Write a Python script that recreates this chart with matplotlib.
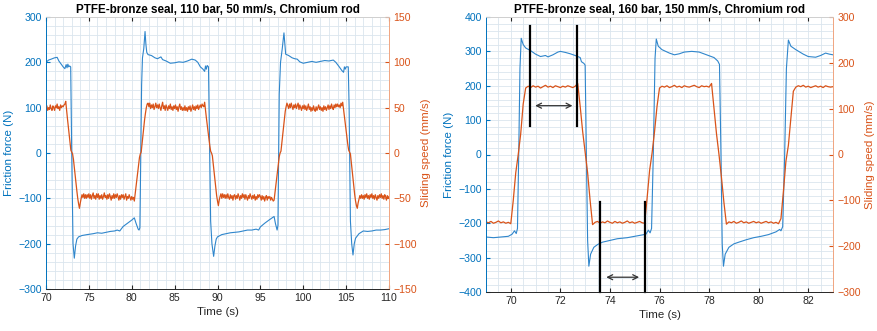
import numpy as np
import matplotlib
matplotlib.use("Agg")
import matplotlib.pyplot as plt
from matplotlib.ticker import MultipleLocator

plt.rcParams['font.family'] = ['Liberation Sans', 'DejaVu Sans']

BLUE = '#0072BD'
BLUE_LINE = '#2f86cc'
ORANGE = '#D95319'
GRID = '#dbe5ee'

# ---- left panel: 110 bar, 50 mm/s ----
left_title = "PTFE-bronze seal, 110 bar, 50 mm/s, Chromium rod"
left_force_t = [70.0, 70.3, 70.6, 71.0, 71.3, 71.5, 71.8, 72.0, 72.2, 72.35, 72.45, 72.55, 72.65, 72.75,
                72.88, 73.0, 73.15, 73.3, 73.45, 73.6, 73.8, 74.2, 74.8, 75.5, 76.0, 76.5, 77.0, 77.5,
                78.0, 78.3, 78.6, 79.0, 79.5, 80.0, 80.3, 80.5, 80.75, 80.85, 80.95, 81.15, 81.25, 81.4,
                81.55, 81.65, 81.75, 81.9, 82.3, 82.7, 83.0, 83.4, 83.6, 84.0, 84.5, 85.0, 85.5, 86.0,
                86.5, 87.0, 87.4, 87.7, 88.0, 88.3, 88.5, 88.6, 88.7, 88.8, 88.95, 89.05, 89.2, 89.35,
                89.55, 89.7, 89.85, 90.0, 90.5, 91.0, 91.5, 92.0, 92.5, 93.0, 93.5, 94.0, 94.5, 94.8,
                95.0, 95.5, 96.0, 96.6, 96.75, 96.95, 97.05, 97.2, 97.35, 97.55, 97.75, 97.85, 97.95,
                98.3, 98.7, 99.0, 99.3, 99.6, 100.0, 100.5, 101.0, 101.5, 102.0, 102.5, 103.0, 103.5,
                103.8, 104.2, 104.5, 104.7, 104.8, 104.9, 105.0, 105.25, 105.35, 105.5, 105.65, 105.8,
                105.95, 106.1, 106.5, 107.0, 107.5, 108.0, 108.5, 109.0, 109.5, 110.0]
left_force = [200, 205, 207, 210, 211, 203, 195, 190, 186, 195, 188, 196, 190, 192,
              190, 0, -200, -232, -205, -190, -185, -182, -180, -178, -176, -177, -175, -173,
              -172, -170, -172, -162, -155, -148, -143, -155, -168, -170, -165, 150, 210, 230,
              268, 240, 222, 217, 215, 210, 208, 212, 206, 203, 198, 199, 201, 200,
              203, 207, 205, 200, 190, 185, 180, 192, 185, 193, 190, 50, -150, -200,
              -228, -205, -190, -185, -180, -178, -176, -175, -174, -172, -170, -170, -168, -170,
              -163, -155, -148, -140, -155, -170, -160, 130, 200, 230, 265, 240, 218,
              215, 210, 208, 207, 201, 198, 200, 202, 200, 202, 204, 203, 205,
              200, 190, 182, 178, 190, 185, 190, 190, 100, -150, -200, -225,
              -200, -188, -178, -172, -173, -172, -170, -170, -169, -167]

left_speed_t0, left_speed_dt = 70.0, 0.1
left_speed = [
    49, 52, 47, 50, 48, 53, 49, 47, 52, 50,
    47, 52, 50, 54, 49, 51, 47, 53, 50, 52,
    51, 53, 54, 57, 47, 38, 29, 20, 11, 3,
    1, -1, -7, -16, -25, -34, -42, -50, -56, -61,
    -55, -50, -46, -49, -45, -50, -46, -50, -46, -49,
    -45, -50, -46, -51, -47, -44, -50, -47, -51, -45,
    -49, -45, -51, -47, -50, -46, -51, -48, -44, -49,
    -47, -51, -46, -50, -45, -48, -52, -47, -50, -45,
    -50, -46, -49, -45, -48, -52, -47, -51, -46, -49,
    -46, -51, -48, -45, -52, -48, -50, -46, -49, -52,
    -48, -51, -49, -53, -45, -37, -29, -21, -13, -5,
    -1, 1, 10, 20, 29, 37, 44, 50, 54, 55,
    51, 55, 49, 53, 50, 54, 48, 51, 55, 50,
    53, 49, 54, 50, 47, 52, 56, 49, 52, 47,
    53, 50, 47, 52, 49, 54, 48, 51, 47, 52,
    49, 53, 48, 51, 46, 51, 54, 48, 51, 47,
    50, 47, 52, 47, 50, 46, 51, 48, 52, 46,
    49, 53, 48, 51, 47, 52, 49, 53, 48, 51,
    53, 50, 54, 52, 51, 56, 47, 39, 31, 23,
    15, 8, 2, 0, -3, -12, -21, -30, -39, -47,
    -53, -58, -52, -48, -45, -50, -45, -49, -46, -50,
    -46, -50, -45, -49, -51, -46, -50, -47, -52, -47,
    -46, -51, -47, -50, -45, -48, -52, -47, -50, -45,
    -49, -46, -51, -46, -49, -52, -47, -50, -45, -48,
    -51, -47, -50, -46, -52, -48, -51, -46, -49, -46,
    -48, -52, -47, -51, -48, -53, -49, -47, -52, -48,
    -50, -48, -52, -49, -51, -53, -52, -44, -36, -27,
    -19, -11, -4, 0, 2, 11, 21, 30, 39, 46,
    51, 55, 52, 49, 54, 50, 55, 51, 48, 53,
    50, 54, 49, 52, 55, 48, 53, 50, 47, 52,
    49, 53, 48, 52, 47, 50, 54, 48, 51, 46,
    50, 47, 52, 48, 46, 51, 47, 50, 53, 48,
    51, 47, 50, 46, 52, 48, 51, 47, 50, 53,
    48, 52, 49, 54, 50, 48, 53, 50, 54, 51,
    54, 51, 53, 50, 55, 52, 56, 48, 40, 32,
    24, 16, 9, 3, 1, -1, -10, -20, -29, -38,
    -46, -53, -58, -61, -55, -51, -47, -50, -46, -50,
    -47, -51, -46, -49, -45, -50, -47, -51, -46, -49,
    -45, -50, -47, -51, -46, -49, -52, -47, -50, -46,
    -49, -45, -50, -47, -51, -46, -48, -52, -47, -50,
    -48]

# ---- right panel: 160 bar, 150 mm/s ----
right_title = "PTFE-bronze seal, 160 bar, 150 mm/s, Chromium rod"
right_force_t = [69.0, 69.3, 69.6, 69.9, 70.05, 70.15, 70.22, 70.27, 70.32, 70.37, 70.42, 70.5, 70.6,
                 70.8, 71.0, 71.2, 71.4, 71.5, 71.7, 71.9, 72.0, 72.2, 72.4, 72.6, 72.8, 72.85, 72.95,
                 73.0, 73.05, 73.1, 73.15, 73.22, 73.35, 73.5, 73.7, 74.0, 74.3, 74.7, 75.0, 75.3,
                 75.45, 75.55, 75.62, 75.68, 75.75, 75.82, 75.87, 75.95, 76.1, 76.4, 76.6, 76.8, 77.0,
                 77.3, 77.6, 77.9, 78.2, 78.35, 78.42, 78.48, 78.53, 78.58, 78.65, 78.8, 79.0, 79.2,
                 79.5, 79.8, 80.1, 80.4, 80.7, 80.85, 80.9, 80.97, 81.05, 81.12, 81.2, 81.3, 81.5,
                 81.8, 82.0, 82.3, 82.5, 82.7, 82.85, 83.0]
right_force = [-240, -242, -240, -238, -232, -222, -230, -215, 0, 250, 338, 320, 310,
               302, 292, 285, 288, 284, 290, 298, 300, 297, 293, 288, 282, 270, 265,
               260, 0, -250, -325, -290, -270, -262, -255, -250, -245, -242, -238, -234,
               -232, -220, -228, -215, 0, 280, 336, 315, 305, 295, 290, 293, 298,
               300, 298, 290, 282, 272, 262, 0, -260, -325, -290, -270, -260, -255,
               -248, -242, -238, -233, -225, -218, -222, -210, 0, 250, 333, 315, 305,
               292, 285, 283, 288, 295, 292, 290]

right_speed_t0, right_speed_dt = 69.0, 0.1
right_speed = [
    -147, -149, -146, -150, -148, -145, -149, -147, -150, -148,
    -151, -100, -40, 0, 45, 110, 145, 149, 146, 150,
    147, 149, 145, 148, 151, 147, 149, 146, 150, 148,
    146, 149, 147, 150, 148, 146, 149, 155, 105, 50,
    5, -40, -100, -153, -148, -146, -150, -147, -149, -145,
    -148, -150, -146, -149, -147, -150, -148, -145, -149, -147,
    -150, -148, -146, -149, -150, -95, -35, 3, 50, 105,
    145, 149, 147, 150, 146, 148, 151, 147, 149, 146,
    150, 148, 147, 149, 151, 148, 146, 150, 148, 149,
    147, 155, 100, 45, 0, -50, -105, -152, -147, -149,
    -146, -150, -148, -145, -149, -147, -150, -148, -146, -149,
    -147, -150, -148, -146, -149, -147, -150, -148, -151, -140,
    -80, -15, 20, 80, 138, 147, 150, 148, 151, 147,
    149, 146, 148, 150, 147, 149, 146, 150, 148, 147,
    148]

# annotation markers on the right panel (left-axis units)
mark_x_top = [70.77, 72.68]
mark_y_top = [83, 373]
arrow_top = (70.87, 72.60, 142)
mark_x_bot = [73.61, 75.40]
mark_y_bot = [-137, -400]
arrow_bot = (73.74, 75.29, -357)


def style_axes(ax1, ax2):
    for ax in (ax1, ax2):
        ax.tick_params(which='both', direction='in', labelsize=7.6, top=True, pad=3)
        ax.tick_params(which='major', length=3)
        ax.tick_params(which='minor', length=0)
    ax1.tick_params(axis='y', colors=BLUE, which='both')
    ax2.tick_params(axis='y', colors=ORANGE, which='both')
    ax1.tick_params(axis='x', colors='#262626', which='both')
    ax1.spines['left'].set_color(BLUE)
    ax2.spines['left'].set_color(BLUE)
    ax2.spines['right'].set_color('#f0a580')
    ax1.spines['right'].set_color('#f0a580')
    for ax in (ax1, ax2):
        ax.spines['bottom'].set_color('#262626')
        ax.spines['top'].set_color('#d0d0d0')
        for s in ax.spines.values():
            s.set_linewidth(0.6)
    ax1.grid(True, which='major', color=GRID, lw=0.6)
    ax1.grid(True, which='minor', color=GRID, lw=0.6)
    ax1.set_axisbelow(True)
    ax1.set_ylabel('Friction force (N)', color=BLUE, fontsize=8.25, labelpad=3)
    ax2.set_ylabel('Sliding speed (mm/s)', color=ORANGE, fontsize=8.25, labelpad=3)
    ax1.set_xlabel('Time (s)', color='#262626', fontsize=8.25, labelpad=3)


fig = plt.figure(figsize=(8.77, 3.31), dpi=100)

# left panel
axL = fig.add_axes([46 / 877, 1 - 289 / 331, 343 / 877, 272 / 331])
axL2 = axL.twinx()
axL.plot(left_force_t, left_force, color=BLUE_LINE, lw=0.8)
tL = left_speed_t0 + left_speed_dt * np.arange(len(left_speed))
axL2.plot(tL, left_speed, color=ORANGE, lw=0.9)
axL.set_xlim(70, 110)
axL.set_ylim(-300, 300)
axL2.set_ylim(-150, 150)
axL.xaxis.set_major_locator(MultipleLocator(5))
axL.xaxis.set_minor_locator(MultipleLocator(1))
axL.yaxis.set_major_locator(MultipleLocator(100))
axL.yaxis.set_minor_locator(MultipleLocator(20))
axL2.yaxis.set_major_locator(MultipleLocator(50))
style_axes(axL, axL2)
axL.set_title(left_title, fontsize=8.4, fontweight='bold', pad=3)

# right panel
axR = fig.add_axes([486 / 877, 1 - 292 / 331, 347 / 877, 275 / 331])
axR2 = axR.twinx()
axR.plot(right_force_t, right_force, color=BLUE_LINE, lw=0.8)
tR = right_speed_t0 + right_speed_dt * np.arange(len(right_speed))
axR2.plot(tR, right_speed, color=ORANGE, lw=0.9)
axR.set_xlim(69, 83)
axR.set_ylim(-400, 400)
axR2.set_ylim(-300, 300)
axR.xaxis.set_major_locator(MultipleLocator(2))
axR.xaxis.set_minor_locator(MultipleLocator(0.5))
axR.yaxis.set_major_locator(MultipleLocator(100))
axR.yaxis.set_minor_locator(MultipleLocator(20))
axR2.yaxis.set_major_locator(MultipleLocator(100))
style_axes(axR, axR2)
axR.set_title(right_title, fontsize=8.4, fontweight='bold', pad=3)

# black markers + arrows, drawn above the speed trace
for xm in mark_x_top:
    axR2.plot([xm, xm], mark_y_top, color='black', lw=1.6, transform=axR.transData, clip_on=False)
for xm in mark_x_bot:
    axR2.plot([xm, xm], mark_y_bot, color='black', lw=1.6, transform=axR.transData, clip_on=False)
for x0, x1, ya in (arrow_top, arrow_bot):
    axR2.annotate('', xy=(x1, ya), xytext=(x0, ya), xycoords=axR.transData, textcoords=axR.transData,
                  arrowprops=dict(arrowstyle='<->', color='#333333', lw=0.9, mutation_scale=9))

fig.savefig('out.png', dpi=100)
